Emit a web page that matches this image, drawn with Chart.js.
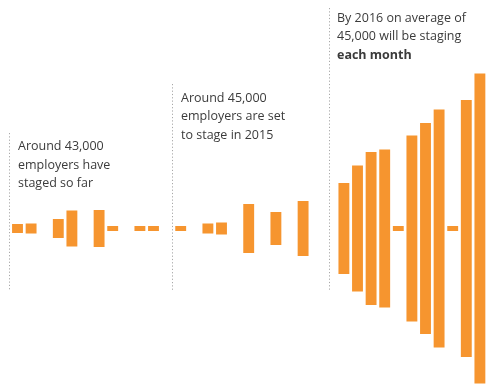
<!DOCTYPE html>
<html>
<head>
<meta charset="utf-8">
<script src="https://cdn.jsdelivr.net/npm/chart.js@4/dist/chart.umd.min.js"></script>
<style>
  html, body { margin: 0; padding: 0; background: #fff; }
  #wrap { width: 500px; height: 390px; }
</style>
</head>
<body>
<div id="wrap"><canvas id="c" width="500" height="390"></canvas></div>
<script>
// one slot per month; 0 = no staging that month
const months = [
  "m1", "m2", "m3", "m4", "m5", "m6", "m7", "m8", "m9", "m10", "m11", "m12",
  "m13", "m14", "m15", "m16", "m17", "m18", "m19", "m20", "m21", "m22", "m23", "m24",
  "m25", "m26", "m27", "m28", "m29", "m30", "m31", "m32", "m33", "m34", "m35",
];
// relative bar size
const staging = [
  9, 10, 0, 19, 36, 0, 37, 5, 0, 5, 5, 0,
  5, 0, 10, 12, 0, 49, 0, 33, 0, 55, 0, 0,
  91, 126, 153, 158, 5, 186, 211, 238, 5, 257, 310,
];
const notes = [
  { lines: ["Around 43,000", "employers have", "staged so far"], bold: [] },
  { lines: ["Around 45,000", "employers are set", "to stage in 2015"], bold: [] },
  { lines: ["By 2016 on average of", "45,000 will be staging", "each month"], bold: [2] },
];

// bars are centred on the zero line
const spans = staging.map((v) => (v ? [-v / 2, v / 2] : null));

const notesPlugin = {
  id: "notes",
  beforeDatasetsDraw(chart) {
    const ctx = chart.ctx;
    const rules = [[9.5, 133], [172.5, 84], [329.5, 8]];
    ctx.save();
    ctx.strokeStyle = "#a8a8a8";
    ctx.lineWidth = 1;
    ctx.setLineDash([1.2, 2.1]);
    rules.forEach(([x, top]) => {
      ctx.beginPath();
      ctx.moveTo(x, top);
      ctx.lineTo(x, 291);
      ctx.stroke();
    });
    ctx.restore();
  },
  afterDraw(chart) {
    const ctx = chart.ctx;
    const spots = [[18, 150], [181, 101.5], [337, 21.5]];
    ctx.save();
    ctx.fillStyle = "#3b3b3b";
    ctx.textBaseline = "alphabetic";
    notes.forEach((n, i) => {
      const [x, y] = spots[i];
      n.lines.forEach((t, j) => {
        ctx.font = (n.bold.includes(j) ? "bold " : "") + "12.5px 'Open Sans'";
        ctx.fillText(t, x, y + j * 18.5);
      });
    });
    ctx.restore();
  },
};

new Chart(document.getElementById("c"), {
  type: "bar",
  data: {
    labels: months,
    datasets: [{
      data: spans,
      backgroundColor: "#f6952f",
      borderColor: "#f6952f",
      borderWidth: 0,
      barPercentage: 1,
      categoryPercentage: 0.8,
      borderSkipped: false,
    }],
  },
  options: {
    responsive: false,
    animation: false,
    layout: { padding: { left: 10.7, right: 13.3, top: 0, bottom: 0 } },
    scales: {
      x: { display: false, offset: true, grid: { display: false } },
      y: { display: false, min: -161.5, max: 228.5 },
    },
    plugins: { legend: { display: false }, tooltip: { enabled: false } },
  },
  plugins: [notesPlugin],
});
</script>
</body>
</html>
